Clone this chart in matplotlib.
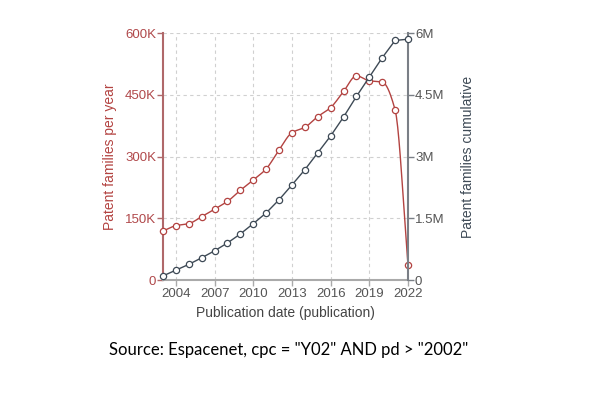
import numpy as np
import matplotlib
matplotlib.use("Agg")
import matplotlib.pyplot as plt
from matplotlib.ticker import FuncFormatter

years = list(range(2003, 2023))
per_year_k = [119, 132, 137, 154, 172, 191, 218, 243, 270, 316, 358, 371, 397,
              419, 458, 496, 484, 481, 413, 37]
cumulative_m = [0.10, 0.24, 0.38, 0.54, 0.71, 0.90, 1.12, 1.37, 1.63, 1.95, 2.31,
                2.68, 3.09, 3.50, 3.96, 4.46, 4.93, 5.40, 5.82, 5.85]
x_ticks = [2004, 2007, 2010, 2013, 2016, 2019, 2022]
left_ticks = [0, 150, 300, 450, 600]
right_ticks = [0, 1.5, 3, 4.5, 6]

red = "#b34341"
dark = "#3e4a56"
grey_txt = "#555555"


def pchip(x, y, n=20):
    # monotone cubic through the points, only used to draw a smooth line
    x = np.asarray(x, float)
    y = np.asarray(y, float)
    h = np.diff(x)
    d = np.diff(y) / h
    m = np.zeros_like(y)
    for i in range(1, len(y) - 1):
        if d[i - 1] * d[i] > 0:
            w1 = 2 * h[i] + h[i - 1]
            w2 = h[i] + 2 * h[i - 1]
            m[i] = (w1 + w2) / (w1 / d[i - 1] + w2 / d[i])
    m[0], m[-1] = d[0], d[-1]
    xs, ys = [], []
    for i in range(len(x) - 1):
        t = np.linspace(0, 1, n, endpoint=False)
        h00 = 2 * t**3 - 3 * t**2 + 1
        h10 = t**3 - 2 * t**2 + t
        h01 = -2 * t**3 + 3 * t**2
        h11 = t**3 - t**2
        xs.append(x[i] + t * h[i])
        ys.append(h00 * y[i] + h10 * h[i] * m[i] + h01 * y[i + 1] + h11 * h[i] * m[i + 1])
    xs.append([x[-1]])
    ys.append([y[-1]])
    return np.concatenate(xs), np.concatenate(ys)


plt.rcParams["font.family"] = ["Liberation Sans", "DejaVu Sans"]

fig = plt.figure(figsize=(5.98, 3.96), dpi=100)
ax = fig.add_axes([0.2726, 0.2929, 0.4097, 0.6237])
ax2 = ax.twinx()

sx, sy = pchip(years, per_year_k)
ax.plot(sx, sy, color=red, lw=1.0, clip_on=False, zorder=3)
ax.plot(years, per_year_k, "o", color=red, mfc="white", ms=4.5, mew=0.9,
        clip_on=False, zorder=4)

ax2.plot(years, cumulative_m, "-o", color=dark, mfc="white", ms=4.5, mew=0.9,
         lw=1.0, clip_on=False, zorder=4)

ax.set_xlim(2003, 2022)
ax.set_ylim(0, 600)
ax2.set_ylim(0, 6)
ax.set_xticks(x_ticks)
ax.set_yticks(left_ticks)
ax2.set_yticks(right_ticks)
ax.yaxis.set_major_formatter(FuncFormatter(lambda v, p: "0" if v == 0 else f"{int(v)}K"))
ax2.yaxis.set_major_formatter(FuncFormatter(lambda v, p: "0" if v == 0 else f"{v:g}M"))

ax.grid(True, color="#d0d0d0", ls=(0, (3, 3)), lw=0.8)
ax.set_axisbelow(True)

for a in (ax, ax2):
    a.spines["top"].set_visible(False)
ax.spines["right"].set_visible(False)
ax2.spines["left"].set_visible(False)
ax2.spines["bottom"].set_visible(False)
ax.spines["left"].set_color("#b0686a")
ax.spines["left"].set_linewidth(1.5)
ax2.spines["right"].set_color("#7a7f86")
ax2.spines["right"].set_linewidth(1.5)
ax.spines["bottom"].set_color("#aaaaaa")
ax.spines["bottom"].set_linewidth(1.5)

ax.tick_params(axis="y", labelcolor="#b0484a", color="#b0686a", labelsize=9.5,
               length=4, width=1, pad=1)
ax2.tick_params(axis="y", labelcolor=grey_txt, color="#7a7f86", labelsize=9.5,
                length=4, width=1, pad=1)
ax.tick_params(axis="x", labelcolor=grey_txt, color="#aaaaaa", labelsize=9.5,
               length=4, width=1, pad=2)

ax.set_ylabel("Patent families per year", color=red, fontsize=10, labelpad=6)
ax2.set_ylabel("Patent families cumulative", color=dark, fontsize=10, labelpad=12)
ax.set_xlabel("Publication date (publication)", color="#444444", fontsize=10, labelpad=4)

fig.text(0.482, 0.116, 'Source: Espacenet, cpc = "Y02" AND pd > "2002"',
         ha="center", va="center", fontsize=12, family=["Lato", "DejaVu Sans"])

fig.savefig("out.png", dpi=100)
